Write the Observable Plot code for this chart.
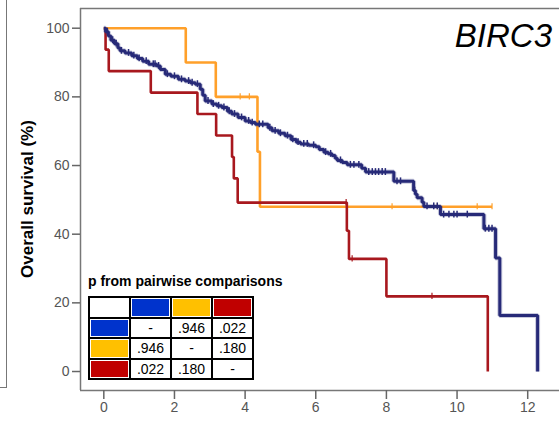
<!DOCTYPE html>
<html><head><meta charset="utf-8">
<script src="https://cdn.jsdelivr.net/npm/d3@7"></script>
<script src="https://cdn.jsdelivr.net/npm/@observablehq/plot@0.6"></script>
<style>
body{margin:0;background:#fff;}
#wrap{position:relative;width:559px;height:421px;overflow:hidden;font-family:"Liberation Sans",Arial,sans-serif;background:#fff;}
#wrap svg{position:absolute;left:0;top:0;}
.title{position:absolute;right:7px;top:19px;font-size:33px;line-height:33px;font-style:italic;color:#000;white-space:nowrap;}
.ylab{position:absolute;left:27px;top:198.5px;transform:translate(-50%,-50%) rotate(-90deg);font-size:17px;font-weight:bold;white-space:nowrap;line-height:17px;color:#000;}
.leftpanel{position:absolute;left:-2px;top:-2px;width:8px;height:389px;border-right:1.5px solid #777;border-bottom:1.5px solid #777;}
.ptitle{position:absolute;left:88px;top:274px;font-size:14px;line-height:14px;font-weight:bold;color:#000;white-space:nowrap;}
.ptable{position:absolute;left:88px;top:296px;display:grid;grid-template-columns:repeat(4,39px);grid-auto-rows:18.5px;gap:2px;padding:2px;background:#000;}
.cell{background:#fff;font-size:14px;display:flex;align-items:center;justify-content:center;padding:1px;box-sizing:border-box;color:#000;}
.cell .sw{width:100%;height:100%;}
</style></head>
<body>
<div id="wrap"></div>
<script>
// ---------------- data ----------------
const xTicks = [0, 2, 4, 6, 8, 10, 12];
const yTicks = [0, 20, 40, 60, 80, 100];

const groupNames = ["blue", "orange", "red"];
const lineColors = ["#272a78", "#ffa02a", "#a8181e"];
const swatchColors = ["#0033cc", "#ffc000", "#c00000"];

const blueTime = [0, 0.05, 0.13, 0.2, 0.3, 0.4, 0.46, 0.6, 0.79, 0.95, 1.1, 1.27, 1.5, 1.6, 1.74, 1.9, 2.11, 2.3, 2.45, 2.59, 2.73, 2.8, 2.87, 3.06, 3.2, 3.34, 3.5, 3.62, 3.8, 4.0, 4.15, 4.29, 4.65, 4.76, 4.95, 5.13, 5.3, 5.45, 5.57, 5.8, 6.0, 6.1, 6.23, 6.35, 6.46, 6.55, 6.61, 6.75, 6.89, 7.3, 7.41, 8.21, 8.77, 8.82, 8.87, 9.01, 9.06, 9.53, 10.76, 11.09, 11.21, 12.28];
const blueSurv = [100, 99, 97.7, 96.5, 95.5, 94.2, 93.4, 92.8, 92, 91.2, 90.4, 89.5, 89, 88, 86.6, 86, 85.1, 84.6, 84.1, 83.7, 82.2, 80.5, 78.8, 77.9, 77.4, 76.9, 75.8, 75, 74, 73, 72.5, 72, 71, 70.1, 69.4, 68.7, 67.6, 66.8, 66.3, 65.9, 65.5, 64.7, 63.9, 63.4, 62.9, 62.1, 61.5, 60.9, 60.2, 59.2, 58.1, 55.4, 52.7, 51.6, 50.6, 49.3, 48.1, 45.7, 41.6, 33.1, 16.3, 0];
const blueCensor = [0.1, 0.25, 0.35, 0.5, 0.7, 0.85, 1.0, 1.2, 1.4, 1.45, 1.55, 1.8, 2.0, 2.2, 2.4, 2.5, 2.65, 2.95, 3.1, 3.25, 3.4, 3.55, 3.7, 3.9, 4.1, 4.2, 4.4, 4.5, 4.7, 4.85, 5.0, 5.2, 5.35, 5.5, 5.66, 5.76, 5.94, 6.28, 6.42, 6.7, 6.98, 7.08, 7.22, 7.5, 7.6, 7.69, 7.78, 7.88, 7.97, 8.3, 8.4, 8.8, 9.15, 9.34, 9.44, 9.62, 9.77, 9.91, 10.0, 10.29, 10.8, 10.9, 10.99];

const orangeTime = [0, 2.32, 3.17, 4.35, 4.42, 10.99];
const orangeSurv = [100, 90, 80, 64, 48, 48];
const orangeCensor = [3.86, 4.12, 8.16, 9.44, 10.57, 10.99];

const redTime = [0, 0.05, 0.14, 1.33, 2.65, 3.18, 3.63, 3.68, 3.79, 6.88, 6.94, 8.0, 10.87];
const redSurv = [100, 93.75, 87.5, 81.25, 75, 68.75, 62.5, 56.25, 49.2, 41.0, 32.8, 21.9, 0];
const redCensor = [6.86, 7.03, 9.29];

const pTitle = "p from pairwise comparisons";
const pValues = [["-", ".946", ".022"], [".946", "-", ".180"], [".022", ".180", "-"]];
const chartTitle = "BIRC3";
const yLabel = "Overall survival (%)";

// ---------------- build ----------------
const xDomain = [-0.66, 12.9];
const yDomain = [-5.53, 105.74];

function steps(T, S) { return T.map((t, i) => ({t, s: S[i]})); }
function survAt(T, S, t) { let s = S[0]; for (let i = 0; i < T.length; i++) if (T[i] <= t) s = S[i]; return s; }
function cens(C, T, S) { return C.map(t => ({t, s: survAt(T, S, t)})); }

const blueSteps = steps(blueTime, blueSurv), orangeSteps = steps(orangeTime, orangeSurv), redSteps = steps(redTime, redSurv);
const blueC = cens(blueCensor, blueTime, blueSurv), orangeC = cens(orangeCensor, orangeTime, orangeSurv), redC = cens(redCensor, redTime, redSurv);

const frameColor = "#777";
const chart = Plot.plot({
  width: 559, height: 421,
  marginLeft: 80, marginTop: 8, marginBottom: 31, marginRight: 0,
  style: {fontFamily: "'Liberation Sans', Arial, sans-serif", background: "transparent", overflow: "visible"},
  x: {domain: xDomain},
  y: {domain: yDomain},
  marks: [
    Plot.ruleX([xDomain[0]], {stroke: frameColor, strokeWidth: 1.5}),
    Plot.ruleY([yDomain[0], yDomain[1]], {stroke: frameColor, strokeWidth: 1.5}),
    Plot.axisX({ticks: xTicks, tickSize: 9, tickPadding: 3, fontSize: 14, fill: "#555", stroke: "#666", strokeWidth: 1.5, label: null}),
    Plot.axisY({ticks: yTicks, tickSize: 8, tickPadding: 3, fontSize: 14, fill: "#555", stroke: "#666", strokeWidth: 1.5, label: null}),
    Plot.line(orangeSteps, {x: "t", y: "s", curve: "step-after", stroke: lineColors[1], strokeWidth: 2.6, strokeLinecap: "butt", strokeLinejoin: "miter"}),
    Plot.ruleX(orangeC, {x: "t", y1: d => d.s - 0.9, y2: d => d.s + 0.9, stroke: lineColors[1], strokeWidth: 1.2}),
    Plot.line(redSteps, {x: "t", y: "s", curve: "step-after", stroke: lineColors[2], strokeWidth: 2.6, strokeLinecap: "butt", strokeLinejoin: "miter"}),
    Plot.ruleX(redC, {x: "t", y1: d => d.s - 0.9, y2: d => d.s + 0.9, stroke: lineColors[2], strokeWidth: 1.2}),
    Plot.line(blueSteps, {x: "t", y: "s", curve: "step-after", stroke: lineColors[0], strokeWidth: 5, strokeOpacity: 0.25, strokeLinecap: "butt", strokeLinejoin: "miter"}),
    Plot.line(blueSteps, {x: "t", y: "s", curve: "step-after", stroke: lineColors[0], strokeWidth: 3, strokeLinecap: "butt", strokeLinejoin: "miter"}),
    Plot.ruleX(blueC, {x: "t", y1: d => d.s - 1, y2: d => d.s + 1, stroke: lineColors[0], strokeWidth: 1.5})
  ]
});

const wrap = document.getElementById("wrap");
const lp = document.createElement("div"); lp.className = "leftpanel"; wrap.appendChild(lp);
wrap.appendChild(chart);

const t = document.createElement("div"); t.className = "title"; t.textContent = chartTitle; wrap.appendChild(t);
const yl = document.createElement("div"); yl.className = "ylab"; yl.textContent = yLabel; wrap.appendChild(yl);
const pt = document.createElement("div"); pt.className = "ptitle"; pt.textContent = pTitle; wrap.appendChild(pt);

const tbl = document.createElement("div"); tbl.className = "ptable";
function addCell(content, color) {
  const c = document.createElement("div"); c.className = "cell";
  if (color) { const s = document.createElement("div"); s.className = "sw"; s.style.background = color; c.appendChild(s); }
  else c.textContent = content;
  tbl.appendChild(c);
}
addCell("", null);
tbl.lastChild.textContent = "";
swatchColors.forEach(col => addCell(null, col));
pValues.forEach((row, i) => { addCell(null, swatchColors[i]); row.forEach(v => addCell(v, null)); });
wrap.appendChild(tbl);
</script>
</body></html>
